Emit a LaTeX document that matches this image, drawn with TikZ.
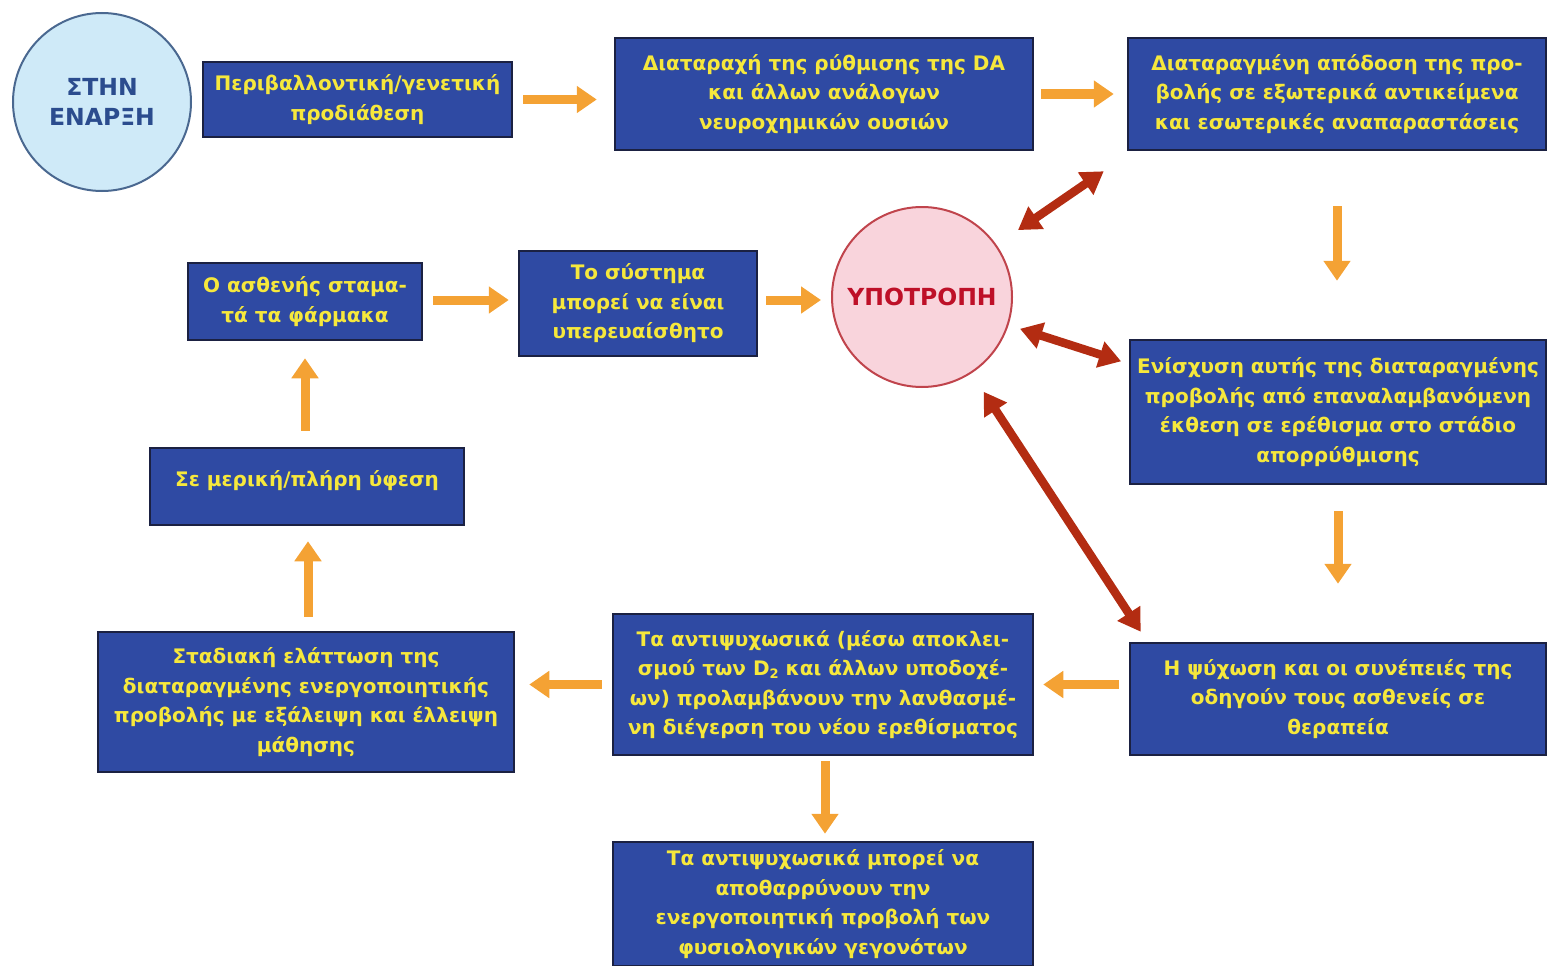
\documentclass[tikz,border=0pt]{standalone}
\usepackage{fontspec}
\setmainfont{DejaVu Sans}
\usetikzlibrary{arrows.meta,calc}
\definecolor{boxfill}{HTML}{2F4AA3}
\definecolor{boxline}{HTML}{1B2142}
\definecolor{boxtext}{HTML}{F6E83C}
\definecolor{flow}{HTML}{F4A234}
\definecolor{link}{HTML}{B32C12}
\definecolor{startfill}{HTML}{CFEAF8}
\definecolor{startline}{HTML}{4A6890}
\definecolor{starttext}{HTML}{2B4C8E}
\definecolor{relfill}{HTML}{F9D4DC}
\definecolor{relline}{HTML}{C0444C}
\definecolor{reltext}{HTML}{BE1028}
\tikzset{
  box/.style={rectangle, fill=boxfill, draw=boxline, line width=2.5pt,
    text=boxtext, align=center, inner sep=0pt,
    font=\fontsize{20}{29.5}\selectfont\bfseries},
  startnode/.style={circle, fill=startfill, draw=startline, line width=2pt,
    text=starttext, align=center, minimum size=178pt, inner sep=0pt,
    font=\fontsize{23.5}{30}\selectfont\bfseries},
  relnode/.style={circle, fill=relfill, draw=relline, line width=2pt,
    text=reltext, align=center, minimum size=180pt, inner sep=0pt,
    font=\fontsize{23.5}{28}\selectfont\bfseries},
  flowarrow/.style={draw=flow, line width=9pt,
    -{Triangle[length=20pt,width=26pt]}},
  linkarrow/.style={draw=link, line width=8.5pt,
    {Triangle[length=22pt,width=26pt]}-{Triangle[length=22pt,width=26pt]}}
}
\newcommand{\subtwo}{\raisebox{-3pt}{\fontsize{13}{13}\selectfont 2}}
\begin{document}
\begin{tikzpicture}[x=1pt,y=-1pt]
\useasboundingbox (0,0) rectangle (1548,966);

% start and relapse circles
\node[startnode] (start) at (102,102) {ΣΤΗΝ\\ΕΝΑΡΞΗ};
\node[relnode] (relapse) at (922,297) {ΥΠΟΤΡΟΠΗ};

% process boxes
\node[box, minimum width=309, minimum height=75] (pre) at (357.5,99.5)
  {Περιβαλλοντική/γενετική\\προδιάθεση};
\node[box, minimum width=418, minimum height=112] (da) at (824,94)
  {Διαταραχή της ρύθμισης της DA\\και άλλων ανάλογων\\νευροχημικών ουσιών};
\node[box, minimum width=418, minimum height=112] (proj) at (1337,94)
  {Διαταραγμένη απόδοση της προ-\\βολής σε εξωτερικά αντικείμενα\\και εσωτερικές αναπαραστάσεις};
\node[box, minimum width=416, minimum height=144] (reinf) at (1338,412)
  {Ενίσχυση αυτής της διαταραγμένης\\προβολής από επαναλαμβανόμενη\\έκθεση σε ερέθισμα στο στάδιο\\απορρύθμισης};
\node[box, minimum width=416, minimum height=112] (psych) at (1338,699)
  {Η ψύχωση και οι συνέπειές της\\οδηγούν τους ασθενείς σε\\θεραπεία};
\node[box, minimum width=420, minimum height=141] (anti) at (823,684.5)
  {Τα αντιψυχωσικά (μέσω αποκλει-\\σμού των D\subtwo{} και άλλων υποδοχέ-\\ων) προλαμβάνουν την λανθασμέ-\\νη διέγερση του νέου ερεθίσματος};
\node[box, minimum width=416, minimum height=140] (decr) at (306,702)
  {Σταδιακή ελάττωση της\\διαταραγμένης ενεργοποιητικής\\προβολής με εξάλειψη και έλλειψη\\μάθησης};
\node[box, minimum width=314, minimum height=77, text depth=16pt] (remis) at (307,486.5)
  {Σε μερική/πλήρη ύφεση};
\node[box, minimum width=234, minimum height=77] (stop) at (305,301.5)
  {Ο ασθενής σταμα-\\τά τα φάρμακα};
\node[box, minimum width=238, minimum height=105] (sens) at (638,303.5)
  {Το σύστημα\\μπορεί να είναι\\υπερευαίσθητο};
\node[box, minimum width=420, minimum height=124] (disc) at (823,904)
  {Τα αντιψυχωσικά μπορεί να\\αποθαρρύνουν την\\ενεργοποιητική προβολή των\\φυσιολογικών γεγονότων};

% main flow
\draw[flowarrow, shorten <=10pt, shorten >=17pt] (pre.east) -- (pre.east -| da.west);
\draw[flowarrow, shorten <=7pt, shorten >=13pt] (da.east) -- (proj.west);
\draw[flowarrow, shorten <=55pt, shorten >=58pt] (proj.south) -- (proj.south |- reinf.north);
\draw[flowarrow, shorten <=26pt, shorten >=58pt] (reinf.south) -- (reinf.south |- psych.north);
\draw[flowarrow, shorten <=10pt, shorten >=9pt] (psych.west |- anti.east) -- (anti.east);
\draw[flowarrow, shorten <=10pt, shorten >=14pt] (anti.west) -- (anti.west -| decr.east);
\draw[flowarrow, shorten <=14pt, shorten >=15pt] ([xshift=2pt]decr.north) -- ([xshift=1pt]remis.south);
\draw[flowarrow, shorten <=16pt, shorten >=17pt] ([xshift=-2pt]remis.north) -- (stop.south);
\draw[flowarrow, shorten <=10pt, shorten >=9pt] ([yshift=1.5pt]stop.east) -- ([yshift=1.5pt]stop.east -| sens.west);
\draw[flowarrow, shorten <=8pt, shorten >=10pt] ([yshift=3.5pt]sens.east) -- ([yshift=3.5pt]sens.east -| relapse.west);
\draw[flowarrow, shorten <=5pt, shorten >=7pt] ([xshift=2pt]anti.south) -- ([xshift=2pt]disc.north);

% two-way links around the relapse
\draw[linkarrow, shorten <=26pt] (relapse.35) -- ([xshift=-23pt,yshift=-20pt]proj.south west);
\draw[linkarrow, shorten <=12pt, shorten >=8pt] (relapse.-18) -- ([yshift=-25pt]reinf.north west);
\draw[linkarrow, shorten <=22pt] (relapse.-57) -- ([xshift=12pt,yshift=10pt]psych.north west);
\end{tikzpicture}
\end{document}
